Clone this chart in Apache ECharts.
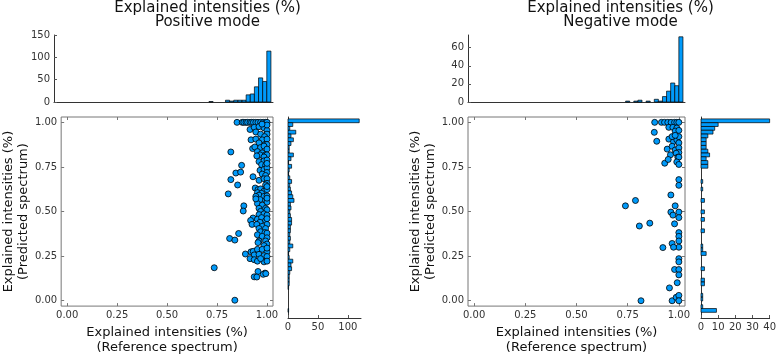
<!DOCTYPE html>
<html>
<head>
<meta charset="utf-8">
<script src="https://cdn.jsdelivr.net/npm/echarts@6/dist/echarts.min.js"></script>
<style>
  html, body { margin: 0; padding: 0; background: #fff; }
  #chart { width: 779px; height: 360px; }
</style>
</head>
<body>
<div id="chart"></div>
<script>
// ---- data ----
const fracTicks = [0, 0.25, 0.5, 0.75, 1];
const binWidth = 0.02;

// positive mode: [reference, predicted]
const posPoints = [
  [0.85,1.0],[0.876,1.0],[0.884,1.0],[0.895,1.0],[0.903,1.0],[0.915,1.0],[0.923,1.0],[0.932,1.0],[0.944,1.0],[0.955,1.0],[0.968,1.0],[0.981,1.0],[0.993,1.0],[1.0,1.0],
  [0.915,0.96],[0.936,0.972],[0.96,0.976],[0.985,0.969],[1.0,0.955],[1.0,0.934],[0.944,0.946],[0.968,0.934],[0.988,0.92],[0.976,0.902],[0.92,0.902],[0.944,0.906],[1.0,0.906],[0.96,0.885],[0.99,0.876],[1.0,0.876],[1.0,0.985],[0.975,0.99],
  [0.928,0.853],[0.939,0.862],[0.968,0.859],[0.985,0.867],[1.0,0.85],[0.952,0.836],[0.976,0.829],[0.965,0.818],[0.993,0.818],[1.0,0.818],[0.985,0.806],[0.949,0.812],[0.819,0.834],
  [0.873,0.759],[0.844,0.716],[0.868,0.721],[0.96,0.78],[0.985,0.784],[1.0,0.789],[0.973,0.763],[0.993,0.759],[0.965,0.731],[0.985,0.736],[1.0,0.745],[1.0,0.719],[0.976,0.71],[0.993,0.702],[1.0,0.77],
  [0.93,0.695],[0.819,0.679],[0.853,0.649],[0.96,0.675],[0.985,0.684],[1.0,0.684],[1.0,0.658],[0.993,0.649],[0.941,0.632],[0.955,0.623],[0.968,0.627],[0.985,0.614],[1.0,0.623],[0.952,0.606],[0.973,0.602],[0.806,0.599],[1.0,0.64],
  [0.96,0.592],[0.944,0.585],[0.985,0.585],[1.0,0.588],[0.965,0.567],[0.993,0.562],[1.0,0.553],[0.952,0.545],[0.976,0.536],[0.884,0.532],[0.96,0.518],[0.993,0.518],[1.0,0.51],[0.881,0.503],[0.968,0.501],[0.944,0.571],[1.0,0.575],
  [0.93,0.464],[0.918,0.45],[0.925,0.428],[0.96,0.483],[0.985,0.487],[1.0,0.48],[0.952,0.457],[0.973,0.466],[0.993,0.449],[0.965,0.44],[1.0,0.428],[0.949,0.428],[0.976,0.417],[0.96,0.405],[0.993,0.405],[1.0,0.46],
  [0.858,0.377],[0.813,0.349],[0.839,0.34],[0.968,0.387],[0.99,0.382],[1.0,0.379],[0.952,0.37],[0.976,0.361],[1.0,0.353],[0.96,0.335],[0.993,0.335],[0.955,0.326],[1.0,0.318],[0.985,0.309],
  [0.892,0.262],[0.92,0.274],[0.931,0.277],[0.952,0.288],[0.976,0.288],[1.0,0.274],[0.936,0.257],[0.96,0.26],[0.985,0.253],[1.0,0.248],[0.915,0.236],[0.936,0.23],[0.952,0.222],[0.985,0.218],[0.968,0.236],[1.0,0.222],[1.0,0.295],
  [0.736,0.185],[0.955,0.164],[0.99,0.155],[0.981,0.148],[0.936,0.134],[0.949,0.133],[0.994,0.152],
  [0.839,0.003]
];

// negative mode: [reference, predicted]
const negPoints = [
  [0.882,1.0],[0.915,1.0],[0.93,1.0],[0.946,1.0],[0.962,1.0],[0.979,1.0],[0.99,1.0],[1.0,1.0],
  [0.88,0.944],[0.892,0.894],[0.951,0.972],[0.971,0.972],[0.99,0.968],[0.982,0.951],[1.0,0.955],
  [0.951,0.906],[0.974,0.892],[0.99,0.902],[1.0,0.92],[1.0,0.885],[0.967,0.92],[0.982,0.927],
  [0.943,0.85],[0.967,0.866],[0.982,0.845],[1.0,0.857],[1.0,0.831],[0.959,0.818],[0.987,0.827],[0.995,0.805],[1.0,0.805],[0.931,0.771],[0.948,0.792],[0.99,0.778],[1.0,0.764],
  [1.0,0.679],[1.0,0.647],[0.961,0.593],[0.788,0.562],[0.739,0.532],[0.982,0.532],[0.961,0.497],[1.0,0.497],[0.971,0.48],[1.0,0.466],
  [0.858,0.435],[0.807,0.419],[0.979,0.431],[1.0,0.382],[1.0,0.361],[1.0,0.335],[1.0,0.3],[0.922,0.298],[0.967,0.321],[0.974,0.3],
  [1.0,0.236],[1.0,0.218],[0.979,0.175],[1.0,0.175],[1.0,0.145],[0.954,0.072],[0.992,0.101],
  [0.815,0.0],[0.967,0.0],[0.987,0.019],[1.0,0.03],[1.0,0.0]
];

// histograms: bin start -> count
const posTopBins   = [0.72, 0.80, 0.82, 0.84, 0.86, 0.88, 0.90, 0.92, 0.94, 0.96, 0.98, 1.00];
const posTopCounts = [1, 4, 2, 4, 4, 4, 16, 18, 34, 54, 46, 114];
const posSideBins   = [1.00, 0.98, 0.96, 0.94, 0.92, 0.90, 0.88, 0.86, 0.84, 0.82, 0.80, 0.78, 0.76, 0.74, 0.72, 0.70, 0.68, 0.66, 0.64, 0.62, 0.60, 0.58, 0.56, 0.54, 0.52, 0.50, 0.48, 0.46, 0.44, 0.42, 0.40, 0.38, 0.36, 0.34, 0.32, 0.30, 0.28, 0.26, 0.24, 0.22, 0.20, 0.18, 0.16, 0.14, 0.12, 0.00];
const posSideCounts = [119, 8, 3, 13, 5, 9, 5, 2, 2, 9, 5, 1, 6, 2, 1, 3, 6, 3, 4, 6, 8, 10, 4, 5, 3, 4, 6, 6, 4, 4, 3, 4, 3, 8, 3, 1, 2, 8, 5, 6, 3, 2, 2, 2, 1, 1];

const negTopBins   = [0.74, 0.78, 0.80, 0.84, 0.88, 0.90, 0.92, 0.94, 0.96, 0.98, 1.00];
const negTopCounts = [1, 1, 2, 1, 3, 1, 6, 12, 21, 18, 72];
const negSideBins   = [1.00, 0.98, 0.96, 0.94, 0.92, 0.90, 0.88, 0.86, 0.84, 0.82, 0.80, 0.78, 0.76, 0.68, 0.64, 0.58, 0.52, 0.48, 0.42, 0.34, 0.32, 0.30, 0.22, 0.16, 0.14, 0.08, 0.06, 0.02, 0.00];
const negSideCounts = [40, 10, 8, 7, 4, 3, 3, 3, 4, 5, 3, 4, 4, 1, 1, 2, 2, 2, 2, 1, 1, 3, 2, 2, 2, 1, 1, 1, 9];

const posTopTicks = [0, 50, 100, 150];
const posSideTicks = [0, 50, 100];
const negTopTicks = [0, 20, 40, 60];
const negSideTicks = [0, 10, 20, 30, 40];

// ---- chart ----
const BLUE = '#009AFA';
const FONT = 'DejaVu Sans';
let myChart = echarts.init(document.getElementById('chart'));

function histTop(p, api) {
  const b = api.value(0), c = api.value(1);
  const p0 = api.coord([b, 0]);
  const p1 = api.coord([b + binWidth, c]);
  return {
    type: 'rect',
    shape: { x: p0[0], y: p1[1], width: p1[0] - p0[0], height: p0[1] - p1[1] },
    style: { fill: BLUE, stroke: '#000', lineWidth: 0.7 }
  };
}
function histSide(p, api) {
  const c = api.value(0), b = api.value(1);
  const p0 = api.coord([0, b]);
  const p1 = api.coord([c, b + binWidth]);
  return {
    type: 'rect',
    shape: { x: p0[0], y: p1[1], width: p1[0] - p0[0], height: p0[1] - p1[1] },
    style: { fill: BLUE, stroke: '#000', lineWidth: 0.7 }
  };
}

const tickLabel = { fontSize: 10, fontFamily: FONT, color: '#333' };
const fmt2 = v => v.toFixed(2);

// scatter axis (value 0..1 padded), with labels or just mirror ticks
function fracAxis(grid, pos, labelled, extra) {
  return Object.assign({
    type: 'value', gridIndex: grid, position: pos, min: -0.03, max: 1.03,
    axisLine: { show: false, onZero: false },
    axisTick: { show: true, inside: true, length: 3, customValues: fracTicks, lineStyle: { color: '#777' } },
    axisLabel: Object.assign({ show: labelled, customValues: fracTicks, formatter: fmt2, margin: labelled ? 4 : 0 }, tickLabel),
    splitLine: { show: false }
  }, extra || {});
}
// histogram frac axis: line only
function histFracAxis(grid, pos) {
  return {
    type: 'value', gridIndex: grid, position: pos, min: -0.03, max: 1.03,
    axisLine: { show: true, onZero: false, lineStyle: { color: '#333', width: 1 } },
    axisTick: { show: false }, axisLabel: { show: false }, splitLine: { show: false }
  };
}
function countAxis(grid, pos, max, ticks) {
  return {
    type: 'value', gridIndex: grid, position: pos, min: 0, max: max,
    axisLine: { show: true, onZero: false, lineStyle: { color: '#333', width: 1 } },
    axisTick: { show: true, inside: true, length: 3, customValues: ticks, lineStyle: { color: '#555' } },
    axisLabel: Object.assign({ customValues: ticks, margin: 4 }, tickLabel),
    splitLine: { show: false }
  };
}

const xName = {
  name: 'Explained intensities (%)\n(Reference spectrum)',
  nameLocation: 'middle', nameGap: 13,
  nameTextStyle: { fontSize: 13, fontFamily: FONT, color: '#111', lineHeight: 15 }
};
const yName = gap => ({
  name: 'Explained intensities (%)\n(Predicted spectrum)',
  nameLocation: 'middle', nameGap: gap,
  nameTextStyle: { fontSize: 13, fontFamily: FONT, color: '#111', lineHeight: 15 }
});

const frame = { show: true, borderColor: '#777', borderWidth: 1, backgroundColor: 'transparent' };

var option = {
  animation: false,
  textStyle: { fontFamily: FONT },
  graphic: [
    { type: 'text', x: 207.5, y: 1, style: { text: 'Explained intensities (%)\nPositive mode', fontSize: 15, fontFamily: FONT, align: 'center', verticalAlign: 'top', lineHeight: 14, fill: '#111' } },
    { type: 'text', x: 620.5, y: 1, style: { text: 'Explained intensities (%)\nNegative mode', fontSize: 15, fontFamily: FONT, align: 'center', verticalAlign: 'top', lineHeight: 14, fill: '#111' } }
  ],
  grid: [
    { left: 54, width: 219, top: 35, height: 67 },                 // 0 top hist +
    Object.assign({ left: 54, width: 219, top: 117, height: 201 }, frame), // 1 scatter +
    { left: 288, width: 73, top: 117, height: 201 },               // 2 side hist +
    { left: 468, width: 217, top: 35, height: 67 },                // 3 top hist -
    Object.assign({ left: 468, width: 217, top: 117, height: 201 }, frame), // 4 scatter -
    { left: 701, width: 73, top: 117, height: 201 }                // 5 side hist -
  ],
  xAxis: [
    histFracAxis(0, 'bottom'),
    fracAxis(1, 'bottom', true, xName),
    fracAxis(1, 'top', false),
    countAxis(2, 'bottom', 122, posSideTicks),
    histFracAxis(3, 'bottom'),
    fracAxis(4, 'bottom', true, xName),
    fracAxis(4, 'top', false),
    countAxis(5, 'bottom', 40, negSideTicks)
  ],
  yAxis: [
    countAxis(0, 'left', 150, posTopTicks),
    fracAxis(1, 'left', true, yName(23)),
    fracAxis(1, 'right', false),
    histFracAxis(2, 'left'),
    countAxis(3, 'left', 74, negTopTicks),
    fracAxis(4, 'left', true, yName(29)),
    fracAxis(4, 'right', false),
    histFracAxis(5, 'left')
  ],
  series: [
    { type: 'custom', xAxisIndex: 0, yAxisIndex: 0, renderItem: histTop,
      data: posTopBins.map((b, i) => [b, posTopCounts[i]]) },
    { type: 'scatter', xAxisIndex: 1, yAxisIndex: 1, symbolSize: 6,
      itemStyle: { color: BLUE, borderColor: '#000', borderWidth: 0.8, opacity: 1 },
      data: posPoints },
    { type: 'custom', xAxisIndex: 3, yAxisIndex: 3, renderItem: histSide,
      data: posSideBins.map((b, i) => [posSideCounts[i], b]) },
    { type: 'custom', xAxisIndex: 4, yAxisIndex: 4, renderItem: histTop,
      data: negTopBins.map((b, i) => [b, negTopCounts[i]]) },
    { type: 'scatter', xAxisIndex: 5, yAxisIndex: 5, symbolSize: 6,
      itemStyle: { color: BLUE, borderColor: '#000', borderWidth: 0.8, opacity: 1 },
      data: negPoints },
    { type: 'custom', xAxisIndex: 7, yAxisIndex: 7, renderItem: histSide,
      data: negSideBins.map((b, i) => [negSideCounts[i], b]) }
  ]
};

myChart.setOption(option);
window.addEventListener('resize', function () {
  myChart.resize();
});
</script>
</body>
</html>
